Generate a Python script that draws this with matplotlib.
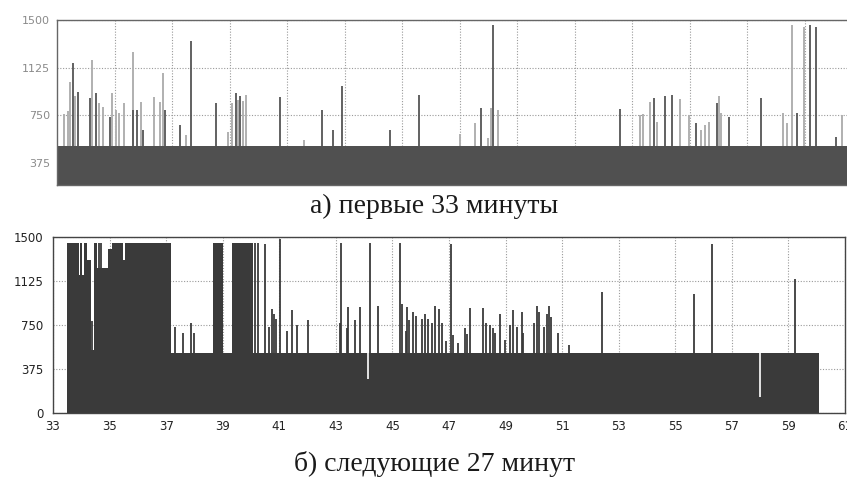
import numpy as np
import matplotlib
matplotlib.use('Agg')
import matplotlib.pyplot as plt

# Верхний график: первые 33 минуты (время в минутах, значения)
top_base = 510
top_dark_t = [0.56, 0.72, 1.15, 1.36, 1.84, 2.64, 2.78, 2.98, 3.76, 4.28, 4.66, 5.53,
              6.23, 6.36, 7.76, 9.21, 9.59, 9.92, 11.58, 12.59, 14.74, 15.15, 19.59,
              20.75, 21.16, 21.39, 22.24, 22.95, 23.36, 24.50, 25.74, 26.20, 26.40, 27.10]
top_dark_v = [1160, 933, 884, 923, 737, 790, 790, 632, 790, 672, 1334, 845,
              925, 900, 894, 790, 632, 978, 630, 907, 805, 1458, 802,
              889, 899, 907, 690, 845, 737, 889, 770, 1458, 1445, 575]
top_light_t = [0.25, 0.38, 0.45, 0.63, 1.21, 1.47, 1.60, 1.91, 2.05, 2.16, 2.33, 2.63,
               2.91, 3.37, 3.58, 3.70, 4.49, 5.94, 6.08, 6.30, 6.47, 6.57, 8.59,
               14.02, 14.54, 14.98, 15.11, 15.34, 20.28, 20.38, 20.63, 20.87, 21.68,
               21.97, 22.40, 22.55, 22.67, 23.01, 23.10, 25.24, 25.39, 25.56, 25.97, 27.30]
top_light_v = [763, 780, 1010, 900, 1188, 845, 815, 923, 790, 765, 845, 1248,
               855, 894, 855, 1083, 593, 619, 845, 870, 860, 907, 554,
               600, 687, 570, 805, 790, 750, 760, 855, 700, 881,
               750, 632, 672, 700, 899, 765, 765, 687, 1458, 1445, 750]

# Нижний график: следующие 27 минут
bot_base = 510
bot_base_start = 33.50
bot_base_end = 60.07
seg_start = [33.50, 33.92, 33.96, 34.04, 34.08, 34.19, 34.33, 34.45, 34.54, 34.96,
             35.08, 35.49, 35.55, 38.67, 39.34]
seg_end = [33.92, 33.96, 34.04, 34.08, 34.19, 34.33, 34.45, 34.54, 34.96, 35.08,
           35.49, 35.55, 37.16, 39.00, 40.08]
seg_level = [1450, 1180, 1450, 1180, 1450, 1305, 540, 1450, 1235, 1400,
             1450, 1300, 1450, 1450, 1450]
bot_t = [34.37, 34.62, 34.70, 37.32, 37.59, 37.87, 38.00, 40.14, 40.26, 40.50, 40.62,
         40.74, 40.82, 40.89, 41.03, 41.27, 41.44, 41.62, 42.03, 43.13, 43.18, 43.39,
         43.44, 43.68, 43.86, 44.21, 44.48, 45.27, 45.33, 45.49, 45.53, 45.60, 45.74,
         45.84, 46.04, 46.16, 46.27, 46.39, 46.51, 46.63, 46.75, 46.90, 47.07, 47.14,
         47.31, 47.57, 47.63, 47.75, 48.20, 48.32, 48.46, 48.55, 48.63, 48.81, 48.99,
         49.16, 49.28, 49.40, 49.58, 49.63, 49.99, 50.11, 50.19, 50.37, 50.46, 50.52,
         50.60, 50.85, 51.26, 52.41, 55.67, 56.30, 59.24]
bot_v = [780, 1450, 1450, 736, 686, 763, 686, 1450, 1450, 1440, 736,
         888, 846, 800, 1480, 702, 875, 750, 790, 763, 1450, 722,
         902, 792, 906, 1450, 913, 1450, 930, 702, 902, 790, 860,
         830, 800, 845, 800, 763, 908, 888, 763, 610, 1444, 668,
         596, 722, 675, 897, 897, 763, 750, 722, 680, 847, 625,
         750, 875, 736, 858, 680, 763, 908, 860, 736, 847, 913,
         819, 680, 583, 1035, 1018, 1444, 1139]
dip_t = [44.15, 57.98]
dip_v = [292, 139]

W, H = 847, 486
fig = plt.figure(figsize=(W / 100, H / 100), dpi=100)
fig.patch.set_facecolor('white')

grid_kw = dict(color='#9a9a9a', linewidth=0.8, linestyle=(0, (1, 1.5)))

# ---- верхний график (обрезан справа, как на скане)
ax1 = fig.add_axes([57 / W, 1 - 185 / H, 948.75 / W, 165 / H])
ax1.set_xlim(0, 33)
ax1.set_ylim(200, 1500)
ax1.set_axisbelow(True)
ax1.bar(0, top_base - 200, bottom=200, width=33, align='edge', color='#505050', linewidth=0)
ax1.vlines(top_light_t, top_base, top_light_v, color='#b0b0b0', linewidth=1.4)
ax1.vlines(top_dark_t, top_base, top_dark_v, color='#555555', linewidth=1.3)
ax1.set_xticks(np.arange(2, 33, 2))
ax1.set_xticklabels([])
ax1.set_yticks([375, 750, 1125, 1500])
ax1.set_yticklabels(['375', '750', '1125', '1500'])
ax1.tick_params(axis='both', length=0)
ax1.tick_params(axis='y', pad=5, labelsize=8, labelcolor='#8a8a8a')
ax1.grid(True, **grid_kw)
for s in ax1.spines.values():
    s.set_color('#666666')
    s.set_linewidth(1.0)

fig.text(434 / W, 1 - 206 / H, 'а) первые 33 минуты', ha='center', va='center',
         fontsize=20, family='Liberation Serif', color='#1a1a1a')

# ---- нижний график
ax2 = fig.add_axes([53 / W, 1 - 413 / H, 792 / W, 176 / H])
ax2.set_xlim(33, 61)
ax2.set_ylim(0, 1500)
ax2.set_axisbelow(True)
ax2.bar(bot_base_start, bot_base, width=bot_base_end - bot_base_start, align='edge',
        color='#3a3a3a', linewidth=0)
ax2.bar(seg_start, seg_level, width=np.array(seg_end) - np.array(seg_start), align='edge',
        color='#3a3a3a', linewidth=0)
ax2.vlines(bot_t, bot_base, bot_v, color='#3a3a3a', linewidth=1.3)
ax2.vlines(dip_t, dip_v, bot_base, color='white', linewidth=1.2)
ax2.set_xticks(np.arange(33, 62, 2))
ax2.set_yticks([0, 375, 750, 1125, 1500])
ax2.tick_params(axis='both', length=0, labelsize=8.5, labelcolor='#222222')
ax2.tick_params(axis='y', pad=7)
ax2.tick_params(axis='x', pad=5)
ax2.grid(True, **grid_kw)
for s in ax2.spines.values():
    s.set_color('#444444')
    s.set_linewidth(1.0)

fig.text(435 / W, 1 - 464 / H, 'б) следующие 27 минут', ha='center', va='center',
         fontsize=20, family='Liberation Serif', color='#1a1a1a')

fig.savefig('out.png', dpi=100)
